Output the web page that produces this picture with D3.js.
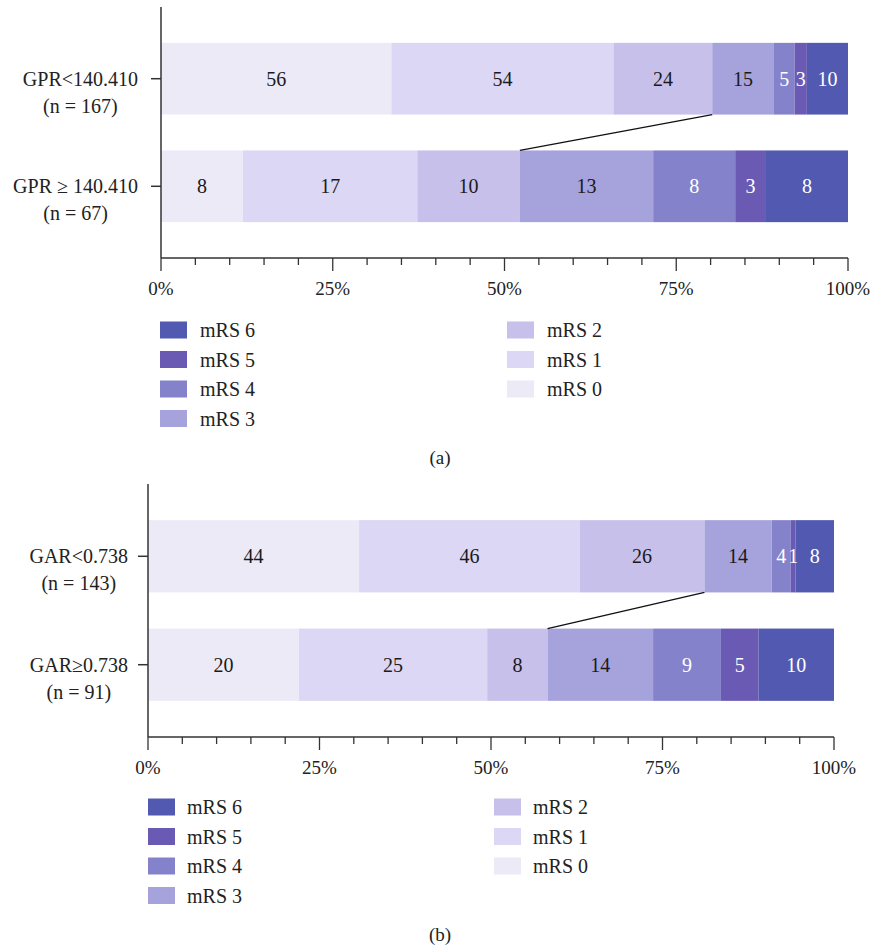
<!DOCTYPE html>
<html>
<head>
<meta charset="utf-8">
<script src="https://cdn.jsdelivr.net/npm/d3@7"></script>
<style>
  body { margin: 0; background: #fff; }
  svg { display: block; font-family: "Liberation Serif", "Times New Roman", serif; }
</style>
</head>
<body>
<svg id="chart" width="870" height="947"></svg>
<script>
// ---- data ----
const categories = ["mRS 0", "mRS 1", "mRS 2", "mRS 3", "mRS 4", "mRS 5", "mRS 6"];
const colors = ["#edeaf8", "#dcd7f4", "#c6c0eb", "#a6a2dc", "#8482cb", "#6a5ab3", "#5259b0"];
const textColors = ["#1a1a1a", "#1a1a1a", "#1a1a1a", "#1a1a1a", "#ffffff", "#ffffff", "#ffffff"];

const groupsA = [["GPR<140.410", "(n = 167)"], ["GPR \u2265 140.410", "(n = 67)"]];
const valuesA = [[56, 54, 24, 15, 5, 3, 10], [8, 17, 10, 13, 8, 3, 8]];
const groupsB = [["GAR<0.738", "(n = 143)"], ["GAR\u22650.738", "(n = 91)"]];
const valuesB = [[44, 46, 26, 14, 4, 1, 8], [20, 25, 8, 14, 9, 5, 10]];

const tickValues = [0, 0.25, 0.5, 0.75, 1];
const tickLabels = ["0%", "25%", "50%", "75%", "100%"];
const legendCol1 = ["mRS 6", "mRS 5", "mRS 4", "mRS 3"];
const legendCol2 = ["mRS 2", "mRS 1", "mRS 0"];
const panelLabels = ["(a)", "(b)"];

const svg = d3.select("#chart");
const color = d3.scaleOrdinal().domain(categories).range(colors);
const tcolor = d3.scaleOrdinal().domain(categories).range(textColors);
const INK = "#222";

function panel(cfg) {
  const g = svg.append("g");
  const x = d3.scaleLinear().domain([0, 1]).range([cfg.x0, cfg.x1]);
  const names = cfg.groups.map(d => d[0]);
  const y = d3.scaleBand().domain(names).range([cfg.top, cfg.axisY]).paddingInner(1/3).paddingOuter(1/3);

  const rows = cfg.values.map((vals, i) => {
    const total = d3.sum(vals);
    let cum = 0;
    return vals.map((v, j) => {
      const s = { group: names[i], cat: categories[j], v, x0: cum / total, x1: (cum + v) / total };
      cum += v;
      return s;
    });
  });

  rows.forEach(row => {
    g.selectAll(null).data(row).enter().append("rect")
      .attr("x", d => x(d.x0))
      .attr("y", d => y(d.group))
      .attr("width", d => x(d.x1) - x(d.x0))
      .attr("height", y.bandwidth())
      .attr("fill", d => color(d.cat));
    g.selectAll(null).data(row).enter().append("text")
      .attr("x", d => (x(d.x0) + x(d.x1)) / 2)
      .attr("y", d => y(d.group) + y.bandwidth() / 2)
      .attr("dy", "0.35em")
      .attr("text-anchor", "middle")
      .attr("font-size", 20)
      .attr("fill", d => tcolor(d.cat))
      .text(d => d.v);
  });

  // connecting line between cumulative mRS 0-2 boundaries
  const b0 = rows[0][2].x1, b1 = rows[1][2].x1;
  g.append("line")
    .attr("x1", x(b0)).attr("y1", y(names[0]) + y.bandwidth())
    .attr("x2", x(b1)).attr("y2", y(names[1]))
    .attr("stroke", "#111").attr("stroke-width", 1.4);

  // y axis
  g.append("line").attr("x1", cfg.x0).attr("x2", cfg.x0).attr("y1", cfg.top).attr("y2", cfg.axisY)
    .attr("stroke", "#333").attr("stroke-width", 1.5);
  names.forEach((n, i) => {
    const cy = y(n) + y.bandwidth() / 2;
    g.append("line").attr("x1", cfg.x0 - 10).attr("x2", cfg.x0).attr("y1", cy).attr("y2", cy)
      .attr("stroke", "#333").attr("stroke-width", 1.5);
    const right = cfg.x0 - cfg.labelGap;
    const t1 = g.append("text").attr("text-anchor", "end").attr("font-size", 20).attr("fill", INK)
      .attr("x", right).attr("y", cy).attr("dy", "0.35em").text(cfg.groups[i][0]);
    const w = t1.node().getComputedTextLength();
    g.append("text").attr("text-anchor", "middle").attr("font-size", 20).attr("fill", INK)
      .attr("x", right - w / 2).attr("y", cy + 27).attr("dy", "0.35em").text(cfg.groups[i][1]);
  });

  // x axis with minor ticks every 5%
  const minor = d3.range(0, 1.0001, 0.05);
  g.append("line").attr("x1", cfg.x0).attr("x2", cfg.x1).attr("y1", cfg.axisY).attr("y2", cfg.axisY)
    .attr("stroke", "#333").attr("stroke-width", 1.5);
  g.selectAll(null).data(minor).enter().append("line")
    .attr("x1", d => x(d)).attr("x2", d => x(d))
    .attr("y1", cfg.axisY)
    .attr("y2", d => cfg.axisY + (Math.abs(d * 4 - Math.round(d * 4)) < 1e-6 ? 13 : 7))
    .attr("stroke", "#333").attr("stroke-width", 1.3);
  g.selectAll(null).data(tickValues).enter().append("text")
    .attr("x", d => x(d)).attr("y", cfg.axisY + 30).attr("dy", "0.35em")
    .attr("text-anchor", "middle").attr("font-size", 19).attr("fill", INK)
    .text((d, i) => tickLabels[i]);

  // legend
  const leg = (list, lx, tx) => {
    list.forEach((name, i) => {
      const cy = cfg.legY + i * 29.5;
      g.append("rect").attr("x", lx).attr("y", cy - 8.5).attr("width", 27).attr("height", 17).attr("fill", color(name));
      g.append("text").attr("x", tx).attr("y", cy).attr("dy", "0.35em").attr("font-size", 20).attr("fill", INK).text(name);
    });
  };
  leg(legendCol1, cfg.legX1, cfg.legX1 + cfg.legTx);
  leg(legendCol2, cfg.legX2, cfg.legX2 + cfg.legTx);

  g.append("text").attr("x", 440).attr("y", cfg.capY).attr("dy", "0.35em")
    .attr("text-anchor", "middle").attr("font-size", 19).attr("fill", INK).text(cfg.caption);
}

panel({ groups: groupsA, values: valuesA, x0: 161, x1: 848, top: 7, axisY: 258, labelGap: 23,
        legY: 330, legX1: 160, legX2: 507, legTx: 40, capY: 457, caption: panelLabels[0] });
panel({ groups: groupsB, values: valuesB, x0: 148, x1: 834, top: 484, axisY: 737, labelGap: 20,
        legY: 807, legX1: 148, legX2: 494, legTx: 39, capY: 934, caption: panelLabels[1] });
</script>
</body>
</html>
